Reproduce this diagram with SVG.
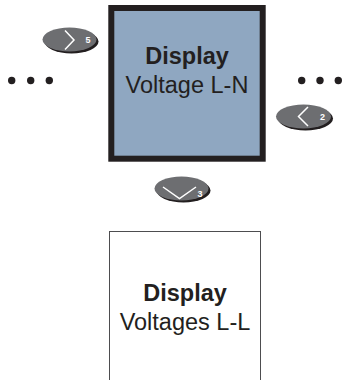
<svg xmlns="http://www.w3.org/2000/svg" width="343" height="380" viewBox="0 0 343 380">
  <style>
    .lbl { font-family: "Liberation Sans", Arial, sans-serif; font-size: 23.5px; fill: #231f20; text-anchor: middle; }
    .b { font-weight: bold; }
    .btn { fill: #6d6e71; }
    .shd { fill: #231f20; }
    .chev { fill: none; stroke: #ffffff; stroke-width: 1.5; stroke-linejoin: miter; }
    .num { font-family: "Liberation Sans", Arial, sans-serif; font-size: 9px; font-weight: bold; fill: #ffffff; text-anchor: middle; }
    .dot { fill: #231f20; }
  </style>
  <rect width="343" height="380" fill="#ffffff"/>

  <g id="node-voltage-ln">
    <rect x="111.3" y="8" width="151.4" height="150.7" fill="#8fa7c1" stroke="#231f20" stroke-width="6"/>
    <text class="lbl b" x="187" y="63.5">Display</text>
    <text class="lbl" x="187" y="93">Voltage L-N</text>
  </g>

  <g id="node-voltages-ll">
    <rect x="109.5" y="231.5" width="151" height="170" fill="#ffffff" stroke="#4d4d4f" stroke-width="1"/>
    <text class="lbl b" x="185" y="301">Display</text>
    <text class="lbl" x="185" y="330">Voltages L-L</text>
  </g>

  <g id="connectors">
    <g id="more-left">
      <circle class="dot" cx="11.7" cy="80.5" r="3.7"/>
      <circle class="dot" cx="30.7" cy="80.5" r="3.7"/>
      <circle class="dot" cx="49.3" cy="80.5" r="3.7"/>
    </g>
    <g id="more-right">
      <circle class="dot" cx="301.7" cy="80.5" r="3.7"/>
      <circle class="dot" cx="320" cy="80.5" r="3.7"/>
      <circle class="dot" cx="338.3" cy="80.5" r="3.7"/>
    </g>
    <g id="button-5">
      <ellipse class="shd" cx="71.5" cy="41.5" rx="27" ry="12"/>
      <ellipse class="btn" cx="69.5" cy="39.5" rx="27" ry="12"/>
      <polyline class="chev" points="65,30.5 74,40 65,49.5"/>
      <text class="num" x="88" y="43">5</text>
    </g>
    <g id="button-2">
      <ellipse class="shd" cx="305.5" cy="118.5" rx="27.5" ry="12"/>
      <ellipse class="btn" cx="303.5" cy="116.5" rx="27.5" ry="12"/>
      <polyline class="chev" points="308,107 298.5,116.5 308,126"/>
      <text class="num" x="322.5" y="119.5">2</text>
    </g>
    <g id="button-3">
      <ellipse class="shd" cx="183.5" cy="190.5" rx="27" ry="12"/>
      <ellipse class="btn" cx="181.5" cy="188.5" rx="27" ry="12"/>
      <polyline class="chev" points="163,187 179.5,198.5 196,187"/>
      <text class="num" x="200" y="196.5">3</text>
    </g>
  </g>
</svg>
